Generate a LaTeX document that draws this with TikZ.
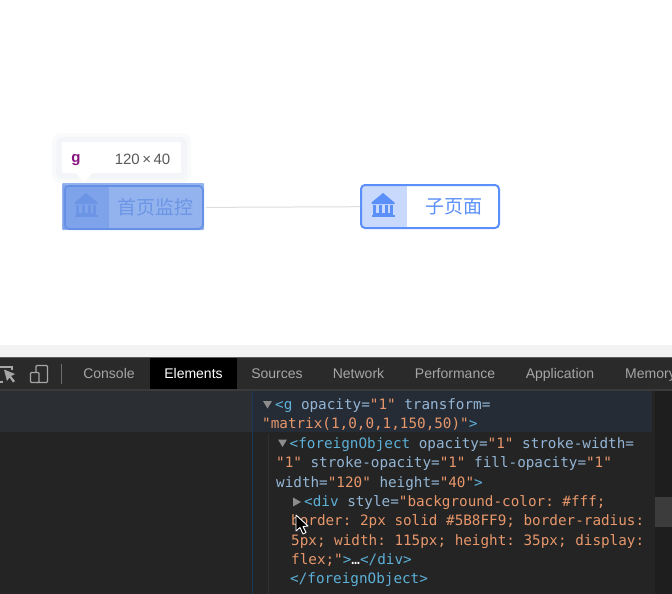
\documentclass[tikz,border=0pt]{standalone}
\usepackage{fontspec}
\setmainfont{Liberation Sans}
\setmonofont{DejaVu Sans Mono}
\newfontfamily\cjkfont{Noto Sans CJK SC}
\definecolor{blueS}{HTML}{5B8FF9}
\definecolor{codeB}{HTML}{5DB0D7}
\definecolor{codeO}{HTML}{E8976B}
\definecolor{attrB}{HTML}{94B6D6}
\definecolor{band}{HTML}{F3F3F3}
\definecolor{halo}{HTML}{F3F5F8}
\definecolor{halo2}{HTML}{F9FAFB}
\definecolor{bodyA}{HTML}{93B3EE}
\definecolor{leftA}{HTML}{7FA3EA}
\definecolor{borderA}{HTML}{6590E6}
\definecolor{iconA}{HTML}{6C95E6}
\definecolor{tagg}{HTML}{881280}
\definecolor{leftB}{HTML}{C8D9FD}
\definecolor{pane}{HTML}{242424}
\definecolor{toolbar}{HTML}{2A2A2A}
\definecolor{paneline}{HTML}{3A3A3A}
\definecolor{selrow}{HTML}{2B2E33}
\definecolor{selrow2}{HTML}{262C35}
\definecolor{gutter}{HTML}{1E1E1E}
\definecolor{thumb}{HTML}{3C3C3C}
\definecolor{vline}{HTML}{1B3A57}
\definecolor{guide}{HTML}{303030}
\newcommand{\cb}[1]{\textcolor{codeB}{#1}}
\newcommand{\co}[1]{\textcolor{codeO}{#1}}
\newcommand{\bankicon}[3]{%
  \begin{scope}[shift={(#1,#2)}]
    \fill[#3] (-11.5,-3.5) -- (0,-13) -- (11.5,-3.5) -- (11.5,-2) -- (-11.5,-2) -- cycle;
    \foreach \cx in {-8.5,-3,3,8.5} \fill[#3] (\cx-1.5,-1) rectangle (\cx+1.5,6.5);
    \fill[#3] (-10,7) rectangle (10,8.5);
    \fill[#3] (-11.5,9) rectangle (11.5,10.5);
  \end{scope}}
\tikzset{
  code/.style={anchor=base west,inner sep=0pt,font=\fontsize{14.3}{16}\selectfont\ttfamily,text=attrB},
  tab/.style={anchor=base,inner sep=0pt,font=\fontsize{14}{16}\selectfont,text=#1},
  tab/.default={black!35!white},
  cjklabel/.style={anchor=center,inner sep=0pt,font=\fontsize{19}{21}\selectfont\cjkfont},
  tri/.style={fill=black!45!white},
}
\begin{document}
\begin{tikzpicture}[x=1pt,y=-1pt]
\useasboundingbox (0,0) rectangle (672,594);
\clip (0,0) rectangle (672,594);
% page
\fill[white] (0,0) rectangle (672,345);
\fill[band] (0,345) rectangle (672,357);
% tooltip halo
\fill[rounded corners=9pt,halo2] (52,133) rectangle (191,183);
\fill[rounded corners=7pt,halo] (56,137) rectangle (187,179);
% graph nodes
\fill[rounded corners=1pt,bodyA] (62,183) rectangle (204,230);
\fill[leftA] (63,185) rectangle (109,229);
\node[inner sep=0pt,minimum width=138pt,minimum height=43pt,draw=borderA,line width=1.8pt,rounded corners=4pt,anchor=north west] (a) at (64,185) {};
\bankicon{86}{206}{iconA}
\node[cjklabel,text=iconA] (alabel) at (155.5,207) {首页监控};
\fill[rounded corners=2pt,white] (62,142) rectangle (181,173);
\fill[white] (76,173) -- (92,173) -- (84,183) -- cycle;
\node[anchor=center,inner sep=0pt,font=\fontsize{15}{17}\selectfont\bfseries,text=tagg] (tagname) at (76,160) {g};
\node[anchor=center,inner sep=0pt,font=\fontsize{15}{17}\selectfont,text=black!65!white] (size) at (142.5,159) {120\,×\,40};
\node[inner sep=0pt,minimum width=138pt,minimum height=43pt,fill=white,anchor=north west] (b) at (361,185) {};
\begin{scope}
  \clip[rounded corners=4pt] (361,185) rectangle (499,228);
  \fill[leftB] (361,185) rectangle (407,228);
\end{scope}
\draw[blueS,line width=2pt,rounded corners=4pt] (361,185) rectangle (499,228);
\bankicon{383}{206}{blueS}
\node[cjklabel,text=blueS] (blabel) at (453.5,207) {子页面};
\draw[black!13!white,line width=1pt,shorten <=2pt,shorten >=1pt] (a.east) -- (b.west);
% devtools
\fill[pane] (0,357) rectangle (672,594);
\fill[toolbar] (0,358) rectangle (672,389);
\fill[black!40!white,opacity=.5] (0,357) rectangle (672,358);
\fill[black] (150,358) rectangle (237,389);
\fill[paneline] (0,389) rectangle (672,391);
\fill[selrow] (0,391) rectangle (252,432);
\fill[selrow2] (253,391) rectangle (652,432);
\fill[gutter] (655,391) rectangle (672,594);
\fill[thumb] (655,497) rectangle (672,527);
\draw[vline,line width=1pt] (252.5,391) -- (252.5,594);
\draw[guide,line width=1pt] (268.5,434) -- (268.5,594);
% toolbar icons
\draw[black!35!white,line width=1.2pt] (-3,367) -- (12,367) -- (12,370);
\draw[black!35!white,line width=1.2pt] (-3,382) -- (3,382);
\fill[black!35!white] (4,369.5) -- (15,374) -- (11,376) -- (15,381) -- (13,382.5) -- (9.5,377.5) -- (7,381) -- cycle;
\draw[black!35!white,line width=1.2pt,rounded corners=1pt] (36,365.5) rectangle (47.5,382.5);
\draw[black!35!white,line width=1.2pt,fill=toolbar,rounded corners=1pt] (30.5,372.5) rectangle (39,382.5);
\draw[black!30!white,line width=.8pt,opacity=.5] (61.5,364) -- (61.5,384);
% tabs
\node[tab] (t1) at (109,378.5) {Console};
\node[tab=white] (t2) at (193.5,378.5) {Elements};
\node[tab] (t3) at (277,378.5) {Sources};
\node[tab] (t4) at (358.5,378.5) {Network};
\node[tab] (t5) at (455,378.5) {Performance};
\node[tab] (t6) at (560,378.5) {Application};
\node[tab,anchor=base west] (t7) at (625,378.5) {Memory};
% code
\fill[tri] (263,401) -- (272,401) -- (267.5,408.5) -- cycle;
\node[code] (c1) at (275,409) {\cb{<g} opacity=\co{"1"} transform=};
\node[code] (c2) at (262,428) {\co{"matrix(1,0,0,1,150,50)"}\cb{>}};
\fill[tri] (278,439.5) -- (287,439.5) -- (282.5,447) -- cycle;
\node[code] (c3) at (289.5,448) {\cb{<foreignObject} opacity=\co{"1"} stroke-width=};
\node[code] (c4) at (276,467) {\co{"1"} stroke-opacity=\co{"1"} fill-opacity=\co{"1"}};
\node[code] (c5) at (276,487) {width=\co{"120"} height=\co{"40"}\cb{>}};
\fill[tri] (293,497.5) -- (301,502) -- (293,506.5) -- cycle;
\node[code] (c6) at (304,506) {\cb{<div} style=\co{"background-color: \#fff;}};
\node[code,text=codeO] (c7) at (291,525) {border: 2px solid \#5B8FF9; border-radius:};
\node[code,text=codeO] (c8) at (291,545) {5px; width: 115px; height: 35px; display:};
\node[code,text=codeO] (c9) at (291,564) {flex;"\cb{>}\textcolor{white}{…}\cb{</div>}};
\node[code,text=codeB] (c10) at (290,583) {</foreignObject>};
% cursor
\fill[black,draw=white,line width=.9pt,line join=round] (296,515) -- (296,531) -- (300,527.5) -- (303,534) -- (306,532.5) -- (303,526.5) -- (308,526) -- cycle;
\end{tikzpicture}
\end{document}
